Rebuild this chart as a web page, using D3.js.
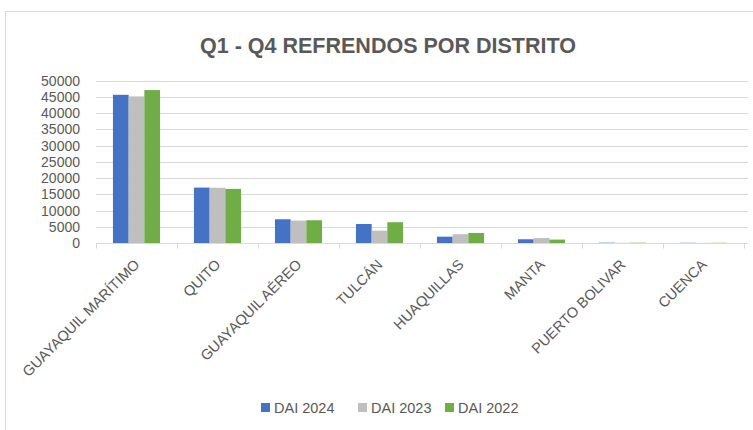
<!DOCTYPE html>
<meta charset="utf-8">
<title>refrendos por distrito</title>
<style>
    body { margin: 0; background: #fff; }
    text { font-family: "Liberation Sans", Arial, sans-serif; fill: #595959; }
</style>
<body>
    <script src="https://d3js.org/d3.v7.min.js"></script>
    <div id="chart"></div>
    <script>
        var width = 753;
        var height = 430;

        // data
        var categories = ["GUAYAQUIL MARÍTIMO", "QUITO", "GUAYAQUIL AÉREO", "TULCÁN",
                          "HUAQUILLAS", "MANTA", "PUERTO BOLIVAR", "CUENCA"];
        var seriesNames = ["DAI 2024", "DAI 2023", "DAI 2022"];
        var dai2024 = [45600, 17050, 7300, 5850, 1950, 1150, 100, 60];
        var dai2023 = [45100, 17000, 6900, 3800, 2700, 1550, 60, 40];
        var dai2022 = [47050, 16650, 7000, 6400, 3100, 1050, 90, 60];
        var yTicks = [0, 5000, 10000, 15000, 20000, 25000, 30000, 35000, 40000, 45000, 50000];
        var colors = ["#4472c4", "#bfbfbf", "#70ad47"];

        var series = [dai2024, dai2023, dai2022];

        var margin = {left: 96, right: 9, top: 80.5, bottom: 187};

        var svg = d3.select("#chart").append("svg")
            .attr("width", width)
            .attr("height", height);

        // outer chart border
        svg.append("rect")
            .attr("x", 5.5).attr("y", 11.5)
            .attr("width", 800).attr("height", 500)
            .style("fill", "none")
            .style("stroke", "#d9d9d9");

        svg.append("text")
            .attr("x", 388)
            .attr("y", 53)
            .style("text-anchor", "middle")
            .style("font-size", "21.5px")
            .style("font-weight", "bold")
            .text("Q1 - Q4 REFRENDOS POR DISTRITO");

        var x = d3.scaleBand()
            .domain(categories)
            .range([margin.left, width - 9])
            .paddingInner(0)
            .paddingOuter(0);

        var xs = d3.scaleBand()
            .domain(seriesNames)
            .range([0, x.bandwidth()])
            .paddingOuter(1.08);

        var y = d3.scaleLinear()
            .domain([0, 50000])
            .range([height - margin.bottom, margin.top]);

        // grid
        svg.append("g")
            .selectAll("line")
            .data(yTicks.slice(1))
            .enter().append("line")
            .attr("x1", margin.left)
            .attr("x2", width - 5)
            .attr("y1", d => Math.round(y(d)) + 0.5)
            .attr("y2", d => Math.round(y(d)) + 0.5)
            .style("stroke", "#d9d9d9");

        // y labels
        svg.append("g")
            .selectAll("text")
            .data(yTicks)
            .enter().append("text")
            .attr("x", 80)
            .attr("y", d => y(d) + 5)
            .style("text-anchor", "end")
            .style("font-size", "14px")
            .text(d => d);

        // bars
        svg.append("g")
            .selectAll("g")
            .data(series)
            .enter().append("g")
            .style("fill", (d, i) => colors[i])
            .selectAll("rect")
            .data((d, i) => d.map((v, j) => ({cat: categories[j], s: seriesNames[i], v: v})))
            .enter().append("rect")
            .attr("x", d => x(d.cat) + xs(d.s))
            .attr("width", xs.bandwidth())
            .attr("y", d => y(d.v))
            .attr("height", d => y(0) - y(d.v));

        // baseline + ticks
        var base = Math.round(y(0)) + 0.5;
        svg.append("line")
            .attr("x1", margin.left).attr("x2", width - 5)
            .attr("y1", base).attr("y2", base)
            .style("stroke", "#d9d9d9");

        svg.append("g")
            .selectAll("line")
            .data(categories.concat(["end"]))
            .enter().append("line")
            .attr("x1", (d, i) => Math.round(margin.left + i * x.step()) + 0.5)
            .attr("x2", (d, i) => Math.round(margin.left + i * x.step()) + 0.5)
            .attr("y1", base)
            .attr("y2", base + 5)
            .style("stroke", "#d9d9d9");

        // category labels rotated
        svg.append("g")
            .selectAll("text")
            .data(categories)
            .enter().append("text")
            .attr("transform", d => "translate(" + (x(d) + x.bandwidth() / 2 + 4) + "," + (base + 22) + ") rotate(-45)")
            .style("text-anchor", "end")
            .style("font-size", "14.5px")
            .text(d => d);

        // legend
        var legendX = [261, 358, 445];
        var legend = svg.append("g")
            .selectAll("g")
            .data(seriesNames)
            .enter().append("g")
            .attr("transform", (d, i) => "translate(" + legendX[i] + ",403)");

        legend.append("rect")
            .attr("width", 9).attr("height", 9)
            .style("fill", (d, i) => colors[i]);

        legend.append("text")
            .attr("x", 13)
            .attr("y", 10)
            .style("font-size", "14.5px")
            .text(d => d);
    </script>
</body>
